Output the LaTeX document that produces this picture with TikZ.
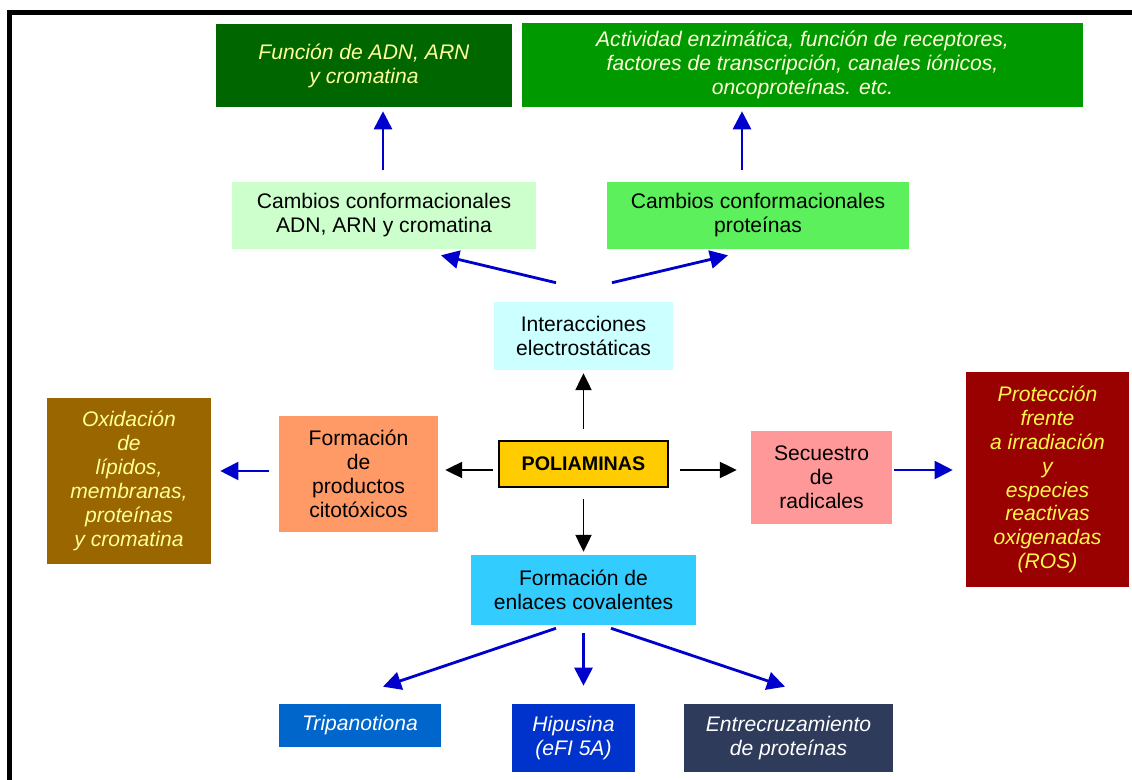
\documentclass[tikz,border=0pt]{standalone}
\usepackage{fontspec}
\setmainfont{Liberation Sans}
\usetikzlibrary{arrows.meta}
\definecolor{darkgreenbox}{HTML}{006600}
\definecolor{greenbox}{HTML}{009900}
\definecolor{palegreen}{HTML}{CCFFCC}
\definecolor{brightgreen}{HTML}{5CF05C}
\definecolor{palecyan}{HTML}{CCFFFF}
\definecolor{salmon}{HTML}{FF9966}
\definecolor{polyellow}{HTML}{FFCC00}
\definecolor{pink}{HTML}{FF9999}
\definecolor{brownbox}{HTML}{996600}
\definecolor{darkred}{HTML}{990000}
\definecolor{cyanbox}{HTML}{33CCFF}
\definecolor{bluebox}{HTML}{0066CC}
\definecolor{deepblue}{HTML}{0033CC}
\definecolor{slatebox}{HTML}{2E3B5B}
\definecolor{arrowblue}{HTML}{0000CC}
\definecolor{paleyellow}{HTML}{FFFF99}
\tikzset{every node/.style={font=\fontsize{15}{17}\selectfont, align=center, inner sep=2pt},
  box/.style={draw=none},
  lighttext/.style={text=paleyellow, font=\fontsize{15}{17}\selectfont\itshape},
  whitetext/.style={text=white, font=\fontsize{15}{17}\selectfont\itshape},
  blackarrow/.style={black, line width=1.4pt, -{Triangle[length=0.42cm,width=0.4cm]}},
  bluearrow/.style={arrowblue, line width=2pt, -{Triangle[length=0.45cm,width=0.45cm]}}}

\begin{document}
\begin{tikzpicture}[x=0.025cm, y=-0.025cm]
  \useasboundingbox (0,0) rectangle (1132,780);
  \draw[line width=0.125cm] (9.5,780) -- (9.5,12.5) -- (1132,12.5);

  \node[box, fill=darkgreenbox, lighttext, minimum width=7.4cm, minimum height=2.075cm] (fadn) at (364,65.5) {Función de ADN, ARN\\y cromatina};
  \node[box, fill=greenbox, lighttext, text=white!85!yellow, minimum width=14.025cm, minimum height=2.1cm] (activ) at (802.5,65) {Actividad enzimática, función de receptores,\\factores de transcripción, canales iónicos,\\oncoproteínas. etc.};
  \node[box, fill=palegreen, minimum width=7.6cm, minimum height=1.675cm] (cadn) at (384,215.5) {Cambios conformacionales\\ADN, ARN y cromatina};
  \node[box, fill=brightgreen, minimum width=7.55cm, minimum height=1.675cm] (cprot) at (758,215.5) {Cambios conformacionales\\proteínas};
  \node[box, fill=palecyan, minimum width=4.475cm, minimum height=1.7cm] (inter) at (583.5,336) {Interacciones\\electrostáticas};
  \node[draw=black, line width=2pt, fill=polyellow, font=\fontsize{14}{17}\selectfont\bfseries, minimum width=4.225cm, minimum height=1.15cm] (poli) at (583.5,464) {POLIAMINAS};
  \node[box, fill=salmon, minimum width=3.975cm, minimum height=2.9cm] (fprod) at (358.5,474) {Formación\\de\\productos\\citotóxicos};
  \node[box, fill=brownbox, lighttext, minimum width=4.1cm, minimum height=4.15cm] (oxid) at (129,481) {Oxidación\\de\\lípidos,\\membranas,\\proteínas\\y cromatina};
  \node[box, fill=pink, minimum width=3.525cm, minimum height=2.325cm] (secu) at (821.5,477.5) {Secuestro\\de\\radicales};
  \node[box, fill=darkred, lighttext, text=yellow!70!white, minimum width=4.075cm, minimum height=5.375cm] (prot) at (1047.5,479.5) {Protección\\frente\\a irradiación\\y\\especies\\reactivas\\oxigenadas\\(ROS)};
  \node[box, fill=cyanbox, minimum width=5.625cm, minimum height=1.75cm] (fenl) at (583.5,590) {Formación de\\enlaces covalentes};
  \node[box, fill=bluebox, whitetext, minimum width=4.05cm, minimum height=1.075cm] (trip) at (360,725.5) {Tripanotiona};
  \node[box, fill=deepblue, whitetext, minimum width=3.075cm, minimum height=1.7cm] (hipu) at (573.5,738) {Hipusina\\(eFI 5A)};
  \node[box, fill=slatebox, whitetext, minimum width=5.225cm, minimum height=1.7cm] (entr) at (788.5,738) {Entrecruzamiento\\de proteínas};

  \draw[bluearrow] ([shift={(-1,-12)}]cadn.north) -- ([shift={(19,4)}]fadn.south);
  \draw[bluearrow] ([shift={(-16,-12)}]cprot.north) -- ([shift={(-60.5,4)}]activ.south);
  \draw[bluearrow] ([shift={(-27.5,-19)}]inter.north) -- ([shift={(57,6)}]cadn.south);
  \draw[bluearrow] ([shift={(28.5,-19)}]inter.north) -- ([shift={(-30,6)}]cprot.south);
  \draw[blackarrow, shorten <=0.275cm, shorten >=0.075cm] (poli) -- (inter);
  \draw[blackarrow, shorten <=0.275cm, shorten >=0.075cm] (poli) -- (fenl);
  \draw[blackarrow] ([shift={(-5,6)}]poli.west) -- ([shift={(7,-4)}]fprod.east);
  \draw[blackarrow] ([shift={(11,6)}]poli.east) -- ([shift={(-14,-7.5)}]secu.west);
  \draw[bluearrow, line width=1.4pt] ([shift={(-10,-3)}]fprod.west) -- ([shift={(9,-10)}]oxid.east);
  \draw[bluearrow, line width=1.4pt] ([shift={(2,-7.5)}]secu.east) -- ([shift={(-13,-9.5)}]prot.west);
  \draw[bluearrow] ([shift={(-27.5,3)}]fenl.south) -- ([shift={(23,-17)}]trip.north);
  \draw[bluearrow] ([shift={(0,8)}]fenl.south) -- ([shift={(10,-18)}]hipu.north);
  \draw[bluearrow] ([shift={(27.5,3)}]fenl.south) -- ([shift={(-3.5,-17)}]entr.north);
\end{tikzpicture}
\end{document}
